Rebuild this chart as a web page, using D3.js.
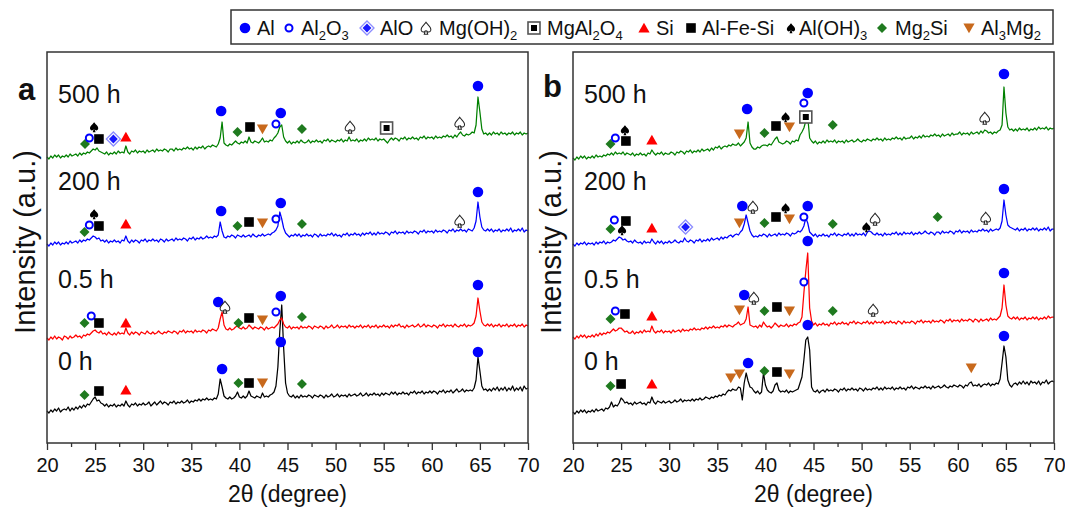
<!DOCTYPE html>
<html><head><meta charset="utf-8">
<script src="https://cdn.jsdelivr.net/npm/d3@7"></script>
<style>html,body{margin:0;padding:0;background:#fff;} svg{display:block;font-family:"Liberation Sans",Arial,sans-serif;}</style>
</head><body><svg id="chart" width="1065" height="511"></svg>
<script>
// ---------------- DATA ----------------
// 2θ scan grid: 20°–70°, step 0.2° (251 points)
const scanStart = 20, scanStep = 0.2, scanCount = 251;
const twoTheta = d3.range(scanCount).map(i => +(scanStart + scanStep * i).toFixed(1));
const xTicks = [20, 25, 30, 35, 40, 45, 50, 55, 60, 65, 70];
const traceLabels = ["0 h", "0.5 h", "200 h", "500 h"];
const panelLetters = ["a", "b"];

// Intensities (a.u., stacked), one value per 0.2° — panel a
const a0h = [32,30,33,31,34, 32,35,31,33,34, 33,36,32,35,33, 36,34,37,35,38, 36,39,38,41,44,
46,42,43,40,39, 37,39,36,38,37, 39,36,38,37,39, 37,42,38,36,39, 38,40,37,39,38,
40,38,39,41,37, 39,41,38,40,42, 39,41,40,38,41, 40,42,39,41,40, 42,40,41,43,40,
42,41,43,42,44, 42,44,43,45,43, 44,43,45,44,49, 64,56,47,45,44, 46,44,45,47,51,
46,45,47,45,47, 52,47,46,45,47, 46,45,50,46,47, 46,48,49,51,57, 76,112,138,95,60,
50,47,46,48,45, 47,45,48,46,47, 46,48,47,45,48, 47,46,48,47,45, 48,46,47,49,46,
47,49,46,48,47, 48,46,49,47,48, 49,47,48,50,47, 48,50,47,49,48, 50,48,49,47,50,
48,50,49,48,51, 49,51,48,50,49, 51,49,50,48,51, 50,52,49,51,50, 52,49,51,50,52,
50,52,51,49,52, 51,53,50,52,51, 53,50,52,54,51, 52,54,51,53,52, 53,52,55,63,86,
72,57,53,54,52, 54,52,55,53,56, 52,55,53,56,52, 55,53,57,52,55, 53,56,52,57,54, 55];
const a05h = [105,103,106,104,107, 104,106,105,103,107, 106,104,107,105,106, 108,106,107,105,108, 107,109,108,110,112,
113,111,110,112,109, 110,108,111,109,108, 110,108,111,109,110, 109,115,110,108,111, 109,111,110,108,111,
110,109,112,110,109, 111,109,110,112,110, 109,111,110,112,111, 110,112,111,109,112, 111,113,110,112,111,
112,110,113,111,112, 111,113,112,110,113, 112,114,113,112,115, 124,131,118,114,113, 115,113,114,116,117,
115,114,116,114,115, 118,116,114,116,115, 114,116,115,113,116, 114,115,116,115,117, 119,123,125,119,116,
115,117,114,116,115, 116,114,117,115,116, 115,117,116,114,117, 116,115,117,116,114, 117,115,116,118,115,
116,118,115,117,116, 117,115,118,116,117, 115,117,116,118,115, 117,116,118,115,117, 116,118,115,117,116,
118,116,117,115,118, 116,118,117,119,116, 117,115,118,116,117, 118,116,117,119,116, 117,119,116,118,117,
116,118,117,115,118, 117,119,116,118,117, 118,116,119,117,116, 118,117,119,116,118, 117,118,120,127,145,
132,121,118,117,119, 117,119,116,118,117, 119,116,118,117,119, 116,118,117,119,116, 118,117,119,116,118, 117];
const a200h = [199,197,200,198,201, 199,201,198,200,199, 201,199,202,200,201, 202,200,203,201,203, 202,204,203,205,207,
206,204,205,202,203, 201,203,200,202,201, 203,201,202,200,203, 202,207,202,200,203, 201,203,202,200,203,
202,204,201,203,202, 204,202,203,201,204, 203,201,204,202,203, 204,202,205,203,204, 203,205,204,202,205,
204,206,203,205,204, 206,204,205,207,205, 206,205,207,206,208, 221,212,206,205,207, 206,208,207,205,208,
207,206,208,206,207, 208,206,209,207,206, 208,207,209,207,208, 209,208,210,211,213, 217,231,224,215,210,
208,206,208,207,209, 207,209,206,208,207, 209,207,208,206,209, 208,206,209,207,208, 207,209,208,210,207,
209,207,208,206,209, 208,210,207,209,208, 210,208,209,207,210, 208,210,209,211,208, 210,208,211,209,210,
209,211,210,208,211, 210,212,209,211,210, 211,209,212,210,211, 210,212,211,209,212, 211,213,210,212,211,
212,210,213,211,212, 211,213,212,210,213, 212,214,211,213,212, 214,212,213,211,214, 213,212,215,222,241,
226,216,213,212,214, 212,214,211,213,212, 214,211,213,212,214, 212,215,211,213,212, 214,212,215,211,213, 212];
const a500h = [286,284,287,285,288, 286,288,285,287,286, 288,286,289,287,288, 289,287,290,288,290, 289,291,290,292,294,
293,295,292,291,290, 289,291,288,290,289, 291,289,292,290,291, 290,297,291,289,292, 291,293,290,292,291,
292,290,293,291,292, 293,291,294,292,293, 292,294,293,291,294, 294,292,295,293,294, 293,295,294,296,294,
295,293,296,294,296, 295,297,294,296,297, 296,298,297,296,299, 305,321,300,298,297, 299,298,300,302,300,
299,301,300,302,300, 306,301,300,302,301, 300,302,305,301,302, 301,303,302,305,307, 310,316,318,306,302,
300,302,299,301,300, 302,300,303,301,300, 301,303,300,302,301, 303,301,302,300,303, 302,304,301,303,302,
301,303,302,304,301, 303,302,306,302,303, 302,304,301,303,302, 304,302,305,303,304, 303,305,302,304,303,
304,302,300,303,305, 303,305,304,302,305, 304,306,303,305,304, 306,304,305,303,306, 305,307,304,306,305,
306,304,307,305,306, 305,307,306,308,306, 307,305,308,306,309, 311,308,307,309,308, 309,311,310,318,346,
331,314,309,310,308, 310,308,311,309,310, 308,311,309,310,308, 310,309,311,308,310, 309,311,308,310,309, 310];

// Panel b
const b0h = [31,29,32,30,33, 31,33,30,32,31, 33,31,34,32,33, 34,32,35,34,36, 41,36,38,37,40,
45,43,40,41,39, 40,38,41,39,40, 41,39,40,38,41, 40,46,41,39,42, 41,40,42,40,41,
42,40,41,43,41, 42,44,41,43,42, 43,42,44,42,44, 43,45,43,44,46, 45,44,46,45,47,
46,48,47,49,48, 51,53,52,54,53, 53,56,55,43,60, 70,62,56,55,52, 50,52,49,51,70,
58,53,51,50,52, 58,60,53,51,52, 51,53,50,52,51, 52,53,54,60,66, 83,103,106,93,56,
52,51,53,50,52, 53,51,54,52,53, 52,54,53,51,54, 53,55,52,54,53, 55,53,54,52,55,
54,52,55,53,54, 53,55,54,56,53, 55,53,56,54,55, 54,56,53,55,54, 56,54,55,53,56,
55,57,54,56,55, 54,56,55,57,55, 56,54,57,55,56, 57,55,56,58,56, 55,57,56,58,57,
56,58,57,55,58, 57,60,61,57,58, 57,59,56,58,59, 58,60,57,59,58, 60,59,64,80,97,
86,63,58,56,59, 60,58,61,59,62, 59,61,58,62,60, 61,59,62,58,61, 60,63,59,61,62, 61];
const b05h = [106,104,107,105,108, 106,108,105,107,106, 108,106,109,107,110, 108,110,109,111,110, 112,114,112,113,115,
115,113,111,112,110, 110,112,109,111,110, 112,110,113,111,112, 111,117,112,110,112, 111,113,110,112,111,
112,110,113,111,112, 113,111,114,112,113, 112,114,113,115,113, 114,113,115,114,116, 114,116,115,117,115,
116,115,117,116,118, 116,118,117,116,118, 119,121,118,119,120, 124,136,118,117,116, 117,115,118,116,121,
118,116,117,115,117, 120,118,116,118,117, 117,119,116,118,117, 119,118,120,121,126, 150,172,190,135,122,
118,120,117,119,118, 120,118,119,117,120, 119,121,118,120,119, 121,119,120,118,121, 120,122,119,121,120,
119,121,120,122,119, 121,119,122,120,121, 120,122,119,121,120, 122,120,121,119,122, 121,119,122,120,121,
120,122,121,119,122, 121,123,120,122,121, 122,120,123,121,122, 121,123,122,120,123, 122,124,121,123,122,
123,121,124,122,123, 122,124,123,121,124, 123,121,124,122,123, 124,122,125,123,124, 123,125,127,135,158,
138,127,125,124,126, 124,126,123,125,124, 126,123,125,124,126, 124,126,123,125,124, 126,124,127,125,126, 126];
const b200h = [199,197,200,198,200, 199,201,198,200,199, 200,198,201,199,201, 200,202,199,201,200, 201,203,202,204,206,
205,203,204,202,201, 202,200,203,201,200, 201,199,202,200,201, 200,204,201,199,202, 200,202,199,201,200,
202,200,201,203,201, 200,202,201,205,202, 201,203,202,200,203, 202,204,201,203,202, 204,202,205,203,204,
205,203,206,204,206, 205,207,208,206,208, 209,208,211,213,219, 228,220,212,208,206, 207,206,208,207,209,
208,206,209,207,208, 209,207,210,208,209, 208,210,209,207,210, 209,210,212,211,213, 217,225,220,211,209,
207,209,206,208,207, 209,207,208,206,209, 208,210,207,209,208, 207,209,208,210,207, 209,207,210,208,209,
208,210,207,211,212, 211,209,208,210,208, 209,207,210,208,209, 208,210,209,211,208, 210,208,211,209,210,
209,211,208,210,209, 211,209,210,212,210, 209,211,210,208,211, 211,209,212,210,211, 210,212,211,209,212,
211,213,210,212,211, 212,210,213,211,212, 211,213,212,214,212, 213,211,214,212,213, 214,213,215,222,243,
228,218,216,215,214, 213,215,212,214,213, 215,212,214,213,215, 213,215,212,214,213, 215,213,216,212,214, 214];
const b500h = [285,283,286,284,287, 285,287,284,286,285, 287,285,288,286,287, 286,288,287,289,288, 290,288,291,289,290,
289,291,288,290,289, 288,290,287,289,288, 290,288,289,287,290, 289,293,290,288,290, 289,291,288,290,289,
289,291,290,288,291, 290,292,291,289,292, 291,293,290,292,291, 293,291,294,292,293, 294,292,295,293,296,
295,297,294,296,297, 296,298,297,299,298, 298,300,297,299,301, 305,321,300,296,294, 294,296,295,297,298,
298,297,299,298,301, 304,306,301,300,299, 300,302,301,299,302, 301,303,302,308,311, 315,322,326,305,302,
300,302,299,301,300, 302,300,303,301,302, 301,303,300,302,301, 302,300,303,301,302, 303,301,302,304,302,
301,303,302,304,303, 302,304,303,305,303, 304,302,305,303,304, 303,305,304,306,304, 305,303,306,304,305,
305,307,304,306,305, 307,305,308,306,307, 306,308,307,309,307, 308,306,309,307,308, 309,307,310,308,309,
309,311,308,310,309, 310,308,311,309,310, 311,309,312,310,313, 312,310,311,309,311, 310,312,313,318,356,
330,316,313,314,312, 314,312,315,313,314, 313,315,312,314,313, 315,313,316,314,315, 314,316,313,315,314, 315];

// Phase identification markers: [phase, 2θ, intensity]
const markersA = [
 ["Mg2Si",23.95,299],["Al2O3",24.4,305],["AlOH3",24.9,316],["AlFeSi",25.4,304],["AlO",26.9,304],["Si",28.2,306],
 ["Al",38.1,332],["Mg2Si",39.8,311],["AlFeSi",41.1,316],["Al3Mg2",42.4,314],["Al2O3",43.8,319],["Al",44.3,330],
 ["Mg2Si",46.5,314],["MgOH2",51.5,316],["MgAl2O4",55.3,315],["MgOH2",62.9,320],["Al",64.8,357],
 ["Mg2Si",23.9,211],["Al2O3",24.4,218],["AlOH3",24.9,229],["AlFeSi",25.4,217],["Si",28.2,219],["Al",38.1,232],
 ["Mg2Si",39.8,217],["AlFeSi",41.0,221],["Al3Mg2",42.4,220],["Al2O3",43.8,224],["Al",44.3,240],["Mg2Si",46.5,219],
 ["MgOH2",62.9,222],["Al",64.8,251],
 ["Mg2Si",23.9,120],["Al2O3",24.6,127],["AlFeSi",25.4,120],["Si",28.2,120],["Al",37.8,141],["MgOH2",38.5,136],
 ["Mg2Si",39.9,120],["AlFeSi",41.0,125],["Al3Mg2",42.4,123],["Al2O3",43.8,131],["Al",44.3,147],["Mg2Si",46.5,126],
 ["Al",64.8,158],
 ["Mg2Si",23.9,48],["AlFeSi",25.4,52],["Si",28.2,53],["Al",38.2,74],["Mg2Si",39.9,60],["AlFeSi",41.0,60],
 ["Al3Mg2",42.4,60],["Al",44.3,101],["Mg2Si",46.5,59],["Al",64.8,91]
];
const markersB = [
 ["Mg2Si",23.9,299],["Al2O3",24.4,305],["AlOH3",25.4,313],["AlFeSi",25.5,302],["Si",28.2,303],["Al3Mg2",37.3,309],
 ["Al",38.1,334],["Mg2Si",39.9,310],["AlFeSi",41.1,317],["AlOH3",42.1,326],["Al3Mg2",42.5,316],["Al2O3",44.0,340],
 ["MgAl2O4",44.2,326],["Al",44.4,350],["Mg2Si",47.0,318],["MgOH2",62.8,325],["Al",64.8,369],
 ["Mg2Si",23.9,214],["Al2O3",24.3,223],["AlOH3",25.1,213],["AlFeSi",25.5,222],["Si",28.2,215],["AlO",31.7,216],
 ["Al3Mg2",37.3,220],["Al",37.6,237],["MgOH2",38.7,236],["Mg2Si",39.9,220],["AlFeSi",41.1,226],["AlOH3",42.1,235],
 ["Al3Mg2",42.5,224],["Al2O3",44.0,226],["Al",44.4,237],["Mg2Si",47.0,219],["AlOH3",50.5,216],["MgOH2",51.4,224],
 ["Mg2Si",57.9,226],["MgOH2",62.9,225],["Al",64.8,254],
 ["Mg2Si",23.9,124],["Al2O3",24.4,132],["AlFeSi",25.4,129],["Si",28.2,127],["Al3Mg2",37.3,133],["Al",37.8,148],
 ["MgOH2",38.8,145],["Mg2Si",39.9,132],["AlFeSi",41.2,136],["Al3Mg2",42.5,132],["Al2O3",44.0,161],["Al",44.4,202],
 ["Mg2Si",47.0,132],["MgOH2",51.2,133],["Al",64.8,170],
 ["Mg2Si",23.9,57],["AlFeSi",25.0,59],["Si",28.2,59],["Al3Mg2",36.4,65],["Al3Mg2",37.3,69],["Al",38.2,80],
 ["Mg2Si",39.9,72],["AlFeSi",41.2,71],["Al3Mg2",42.5,69],["Al",44.4,118],["Al3Mg2",61.4,75],["Al",64.8,107]
];

// Legend: phase keys and labels ([text, isSubscript])
const phaseKeys = ["Al","Al2O3","AlO","MgOH2","MgAl2O4","Si","AlFeSi","AlOH3","Mg2Si","Al3Mg2"];
const phaseLabels = [
 [["Al",0]], [["Al",0],["2",1],["O",0],["3",1]], [["AlO",0]], [["Mg(OH)",0],["2",1]],
 [["MgAl",0],["2",1],["O",0],["4",1]], [["Si",0]], [["Al-Fe-Si",0]], [["Al(OH)",0],["3",1]],
 [["Mg",0],["2",1],["Si",0]], [["Al",0],["3",1],["Mg",0],["2",1]]
];

// ---------------- LAYOUT / STYLE ----------------
const svg = d3.select("#chart");
const plotTop = 52, plotBottom = 443;
const panelBox = [{left:47,right:528},{left:573,right:1054}];
const traceColors = ["#000000","#ff0000","#0000ff","#008000"];
const labelHeights = [73,155,253,340];
const legendSymX = [245,289,367,426,534,644,691,791,882,969];
const legendTxtX = [257,301,380,439,547,656,702,799,895,981];

const spadePath = "M0,-6C2,-3 6,-1 5,2.5C4.2,5 1.2,4.6 0.5,2.5L1.8,6.5L-1.8,6.5L-0.5,2.5C-1.2,4.6 -4.2,5 -5,2.5C-6,-1 -2,-3 0,-6Z";
const diamond = r => `M0,${-r}L${r},0L0,${r}L${-r},0Z`;

function drawMarker(g, key, cx, cy) {
  const m = g.append("g").attr("transform", `translate(${cx},${cy})`);
  switch (key) {
    case "Al": m.append("circle").attr("r",5.3).attr("fill","#0000ff"); break;
    case "Al2O3": m.append("circle").attr("r",3.5).attr("fill","#fff").attr("stroke","#0000ff").attr("stroke-width",2); break;
    case "AlO":
      m.append("path").attr("d",diamond(7)).attr("fill","#fff").attr("stroke","#8c8cff").attr("stroke-width",1.3);
      m.append("path").attr("d",diamond(4.4)).attr("fill","#1a1aff"); break;
    case "MgOH2": m.append("path").attr("d",spadePath).attr("transform","scale(0.95)").attr("fill","#fff").attr("stroke","#222").attr("stroke-width",1.1); break;
    case "MgAl2O4":
      m.append("rect").attr("x",-6).attr("y",-6).attr("width",12).attr("height",12).attr("fill","#fff").attr("stroke","#555").attr("stroke-width",1.6);
      m.append("rect").attr("x",-3).attr("y",-3).attr("width",6).attr("height",6).attr("fill","#000"); break;
    case "Si": m.append("path").attr("d","M0,-5.2L5.6,4.6L-5.6,4.6Z").attr("fill","#ff0000"); break;
    case "AlFeSi": m.append("rect").attr("x",-4.8).attr("y",-4.8).attr("width",9.6).attr("height",9.6).attr("fill","#000"); break;
    case "AlOH3": m.append("path").attr("d",spadePath).attr("transform","scale(0.8)").attr("fill","#000"); break;
    case "Mg2Si": m.append("path").attr("d",diamond(5)).attr("fill","#1f7a1f"); break;
    case "Al3Mg2": m.append("path").attr("d","M-5.6,-4.6L5.6,-4.6L0,5.2Z").attr("fill","#c8691c"); break;
  }
}

const panelTraces = [[a0h,a05h,a200h,a500h],[b0h,b05h,b200h,b500h]];
const panelMarkers = [markersA, markersB];

panelBox.forEach((pb, pi) => {
  const x = d3.scaleLinear().domain([20,70]).range([pb.left, pb.right]);
  const y = d3.scaleLinear().domain([0,391]).range([plotBottom, plotTop]);
  const g = svg.append("g");

  const line = d3.line().x((d,i) => x(twoTheta[i])).y(d => y(d));
  panelTraces[pi].forEach((tr, ti) => {
    g.append("path").attr("d", line(tr)).attr("fill","none")
      .attr("stroke", traceColors[ti]).attr("stroke-width",1.25).attr("stroke-linejoin","round");
  });

  panelMarkers[pi].forEach(([k, tt, v]) => drawMarker(g, k, x(tt), y(v)));

  traceLabels.forEach((lab, ti) => {
    g.append("text").attr("x", pb.left + 11).attr("y", y(labelHeights[ti]))
      .attr("font-size", 25).attr("fill","#111").text(lab);
  });

  g.append("rect").attr("x", pb.left).attr("y", plotTop).attr("width", pb.right - pb.left)
    .attr("height", plotBottom - plotTop).attr("fill","none").attr("stroke","#333").attr("stroke-width",1.5);

  const ax = g.append("g").attr("transform", `translate(0,${plotBottom})`)
    .call(d3.axisBottom(x).tickValues(xTicks).tickSize(7).tickSizeOuter(0).tickPadding(8).tickFormat(d3.format("d")));
  ax.select(".domain").remove();
  ax.selectAll("line").attr("stroke","#333").attr("stroke-width",1.3);
  ax.selectAll("text").attr("font-size",20).attr("fill","#111").attr("font-family",'"Liberation Sans",Arial,sans-serif');
  const minor = g.append("g").attr("transform", `translate(0,${plotBottom})`)
    .call(d3.axisBottom(x).tickValues(xTicks.slice(0,-1).map(t => t + 2.5)).tickSize(4).tickSizeOuter(0).tickFormat(""));
  minor.select(".domain").remove();
  minor.selectAll("line").attr("stroke","#333").attr("stroke-width",1.3);

  g.append("text").attr("x", (pb.left + pb.right)/2).attr("y", 502).attr("text-anchor","middle")
    .attr("font-size",23).attr("fill","#111").text("2θ (degree)");
  g.append("text").attr("transform", `translate(${pb.left - 12},242) rotate(-90)`).attr("text-anchor","middle")
    .attr("font-size",29).attr("fill","#111").text("Intensity (a.u.)");

  g.append("text").attr("x", pi === 0 ? 18 : 543).attr("y", pi === 0 ? 100 : 97)
    .attr("font-size",31).attr("font-weight","bold").attr("fill","#111").text(panelLetters[pi]);
});

// legend
const lg = svg.append("g");
lg.append("rect").attr("x",231).attr("y",10).attr("width",822).attr("height",34)
  .attr("fill","#fff").attr("stroke","#333").attr("stroke-width",1.5);
phaseKeys.forEach((k, i) => {
  drawMarker(lg, k, legendSymX[i], 28);
  const t = lg.append("text").attr("x", legendTxtX[i]).attr("y", 35).attr("font-size",20).attr("fill","#111");
  const parts = phaseLabels[i];
  parts.forEach(([s, sub], j) => {
    let dy = 0;
    if (sub) dy = 5;
    else if (j > 0 && parts[j-1][1]) dy = -5;
    t.append("tspan").attr("font-size", sub ? 13 : 20).attr("dy", dy).text(s);
  });
});
</script></body></html>
